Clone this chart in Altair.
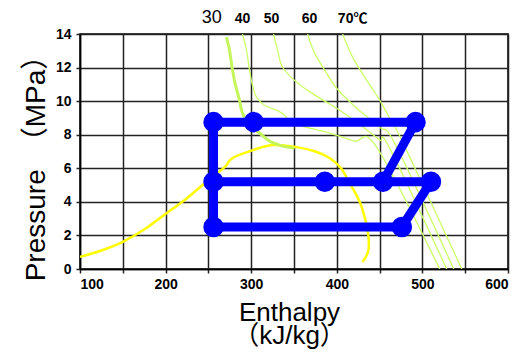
import altair as alt
import pandas as pd

# ---- data ----
h_ticks = list(range(100, 601, 50))
p_ticks = list(range(0, 15, 2))

dome_h = [100, 125, 150, 175, 199, 222, 245, 269, 278, 302, 325, 353, 375, 392, 405, 415, 423, 429, 436, 437, 430]
dome_p = [0.72, 1.1, 1.62, 2.35, 3.25, 4.1, 5.08, 6.07, 6.6, 7.08, 7.38, 7.26, 7.0, 6.6, 6.0, 5.1, 4.4, 3.7, 2.3, 1.13, 0.42]

iso30_h = [271.1, 274.6, 276.9, 279.3, 281.6, 286.3, 289.8, 298.0, 309.7, 321.4, 336.6, 350.6]
iso30_p = [13.81, 13.04, 12.26, 11.55, 10.95, 10.06, 9.29, 8.57, 8.10, 7.62, 7.32, 7.20]

iso40_h = [289.8, 294.5, 298.0, 301.5, 306.2, 315.6, 329.6, 338.9, 348.3, 368.2, 391.6, 420.8, 446.5, 520.2]
iso40_p = [14.0, 13.04, 11.85, 10.95, 10.24, 9.76, 9.46, 9.17, 8.69, 8.39, 8.10, 7.62, 7.26, 0]

iso50_h = [326.1, 330.8, 336.7, 353.0, 376.4, 399.8, 415.0, 432.5, 450.1, 461.8, 528.4]
iso50_p = [14.0, 13.04, 12.02, 11.13, 10.30, 9.58, 9.05, 8.39, 7.68, 7.20, 0]

iso60_h = [365.9, 374.1, 388.1, 399.8, 423.2, 450.1, 468.8, 536.6]
iso60_p = [14.0, 12.86, 11.67, 10.77, 9.58, 8.45, 7.38, 0]

iso70_h = [406.8, 418.5, 434.9, 450.1, 462.9, 477.0, 546.0]
iso70_p = [14.0, 12.62, 11.25, 10.06, 8.87, 7.56, 0]

# cycle segments (start h, start p, end h, end p)
seg_h1 = [256, 256, 256, 256, 492, 510]
seg_p1 = [8.75, 8.75, 5.2, 2.5, 8.75, 5.2]
seg_h2 = [492, 256, 510, 476, 454, 476]
seg_p2 = [8.75, 2.5, 5.2, 2.5, 5.2, 2.5]

pt_h = [256, 303, 492, 256, 386, 454, 510, 256, 476]
pt_p = [8.75, 8.75, 8.75, 5.2, 5.2, 5.2, 5.2, 2.5, 2.5]

lab_big_text = ["30"]
lab_big_h = [253.8]
lab_text = ["40", "50", "60", "70℃"]
lab_h = [289.8, 323.8, 368.2, 418.5]

# ---- tables ----
def series(name, hs, ps):
    return pd.DataFrame({"s": name, "h": hs, "p": ps, "o": range(len(hs))})

dome = series("dome", dome_h, dome_p)
thin = pd.concat([series("40", iso40_h, iso40_p), series("50", iso50_h, iso50_p),
                  series("60", iso60_h, iso60_p), series("70", iso70_h, iso70_p)])
thick = series("30", iso30_h, iso30_p)

segs = []
for i in range(len(seg_h1)):
    segs.append({"s": i, "h": seg_h1[i], "p": seg_p1[i], "o": 0})
    segs.append({"s": i, "h": seg_h2[i], "p": seg_p2[i], "o": 1})
segs = pd.DataFrame(segs)
pts = pd.DataFrame({"h": pt_h, "p": pt_p})

FONT = "Liberation Sans"
TFONT = "Liberation Sans, 'Noto Sans CJK JP'"

xscale = alt.Scale(domain=[100, 600], nice=False)
yscale = alt.Scale(domain=[0, 14], nice=False)

xaxis = alt.Axis(values=h_ticks, labelExpr="datum.value % 100 == 0 ? datum.label : ''",
                 grid=True, gridColor="#222", gridWidth=1.5, gridOpacity=1,
                 tickColor="#222", tickSize=4, tickWidth=1.5, domainColor="black", domainWidth=1.5,
                 labelFont=FONT, labelFontWeight="bold", labelFontSize=14, labelColor="black",
                 labelPadding=4, labelOverlap=False,
                 title=["Enthalpy", "（kJ/kg）"], titleFont=TFONT, titleFontSize=26, titleX=209,
                 titleFontWeight="normal", titleColor="black", titlePadding=8, titleLineHeight=23)
yaxis = alt.Axis(values=p_ticks, grid=True, gridColor="#222", gridWidth=1.5, gridOpacity=1,
                 tickColor="#222", tickSize=4, tickWidth=1.5, domainColor="black", domainWidth=1.5,
                 labelFont=FONT, labelFontWeight="bold", labelFontSize=14, labelColor="black",
                 labelPadding=5, labelOverlap=False,
                 title="Pressure　（MPa）", titleFont=TFONT, titleFontSize=28, titleY=127,
                 titleFontWeight="normal", titleColor="black", titlePadding=5)

X = alt.X("h:Q", scale=xscale, axis=xaxis)
Y = alt.Y("p:Q", scale=yscale, axis=yaxis)

dome_l = alt.Chart(dome).mark_line(color="#ffff00", strokeWidth=2.5, interpolate="cardinal", clip=True).encode(
    order="o:Q")
thin_l = alt.Chart(thin).mark_line(color="#ccff66", strokeWidth=1.3, interpolate="cardinal", clip=True).encode(
    detail="s:N", order="o:Q")
thick_l = alt.Chart(thick).mark_line(color="#c4f55a", strokeWidth=3, interpolate="cardinal", clip=True).encode(
    order="o:Q")
seg_l = alt.Chart(segs).mark_line(color="#0000ff", strokeWidth=9).encode(
    detail="s:N", order="o:Q")
pt_m = alt.Chart(pts).mark_circle(color="#0000ff", opacity=1, size=420)

lab_big = alt.Chart(pd.DataFrame({"t": lab_big_text, "h": lab_big_h})).mark_text(
    font=FONT, fontSize=18, color="black", baseline="alphabetic", align="center").encode(
    y=alt.value(-11), text="t:N")
lab_small = alt.Chart(pd.DataFrame({"t": lab_text, "h": lab_h})).mark_text(
    font=TFONT, fontSize=14, fontWeight="bold", color="black", baseline="alphabetic", align="center").encode(
    y=alt.value(-11), text="t:N")

chart = alt.layer(dome_l, thick_l, thin_l, seg_l, pt_m, lab_big, lab_small).encode(
    x=X, y=Y
).properties(
    width=428, height=235,
    autosize=alt.AutoSizeParams(type="none"),
    padding={"left": 72, "top": 26, "right": 11, "bottom": 86},
).configure_view(stroke="black", strokeWidth=1.5).configure_axis(labelOverlap=False)

chart.save("out.html", embed_options={"renderer": "svg", "actions": False})
